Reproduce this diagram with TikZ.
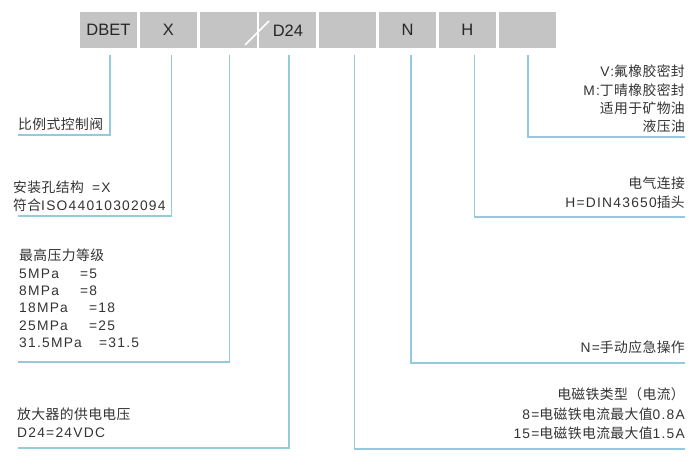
\documentclass[tikz,border=0pt]{standalone}
\usepackage{fontspec}
\setmainfont{Liberation Sans}[LetterSpace=9]
\newfontfamily\cjk{Noto Sans CJK SC}[LetterSpace=3]
\usetikzlibrary{positioning}

\definecolor{cellgray}{HTML}{C4C4C4}
\definecolor{leadblue}{HTML}{93CBDD}
\definecolor{inkgray}{HTML}{333333}

\begin{document}
\begin{tikzpicture}[
  x=1pt, y=-1pt,
  cell/.style={
    fill=cellgray,
    minimum width=57pt,
    minimum height=36pt,
    inner sep=0pt,
    text=black!85,
    font=\fontsize{16.5}{18}\selectfont\addfontfeatures{LetterSpace=0}
  },
  lead/.style={draw=leadblue, line width=1.5pt},
  slash/.style={draw=white, line width=1.6pt},
  leftnote/.style={
    anchor=south west,
    inner sep=0pt,
    align=left,
    text=inkgray,
    font=\fontsize{13.8}{18.5}\selectfont
  },
  rightnote/.style={
    anchor=south east,
    inner sep=0pt,
    align=right,
    text=inkgray,
    font=\fontsize{13.8}{19.5}\selectfont
  }
]
\useasboundingbox (0,0) rectangle (700,468);

% Code cells of the ordering key.
\node[cell] (c1) at (108.5,30.3) {DBET};
\node[cell, right=2.4pt of c1] (c2) {X};
\node[cell, right=2.4pt of c2] (c3) {};
\node[cell, right=2.4pt of c3] (c4) {D24};
\node[cell, right=2.4pt of c4] (c5) {};
\node[cell, right=2.4pt of c5] (c6) {N};
\node[cell, right=2.4pt of c6] (c7) {H};
\node[cell, right=2.4pt of c7] (c8) {};
\draw[slash] (245,45) -- (269,21);

% Left-hand explanations.
\node[leftnote] (n1) at (18,131) {{\cjk 比例式控制阀}};
\node[leftnote] (n2) at (13,212)
  {\makebox[79pt][l]{\cjk 安装孔结构}=X\\{\cjk 符合}ISO44010302094};
\node[leftnote, font=\fontsize{13.8}{17.4}\selectfont] (n3) at (19,348)
  {{\cjk 最高压力等级}\\
   \makebox[61pt][l]{5MPa}=5\\
   \makebox[61pt][l]{8MPa}=8\\
   \makebox[70pt][l]{18MPa}=18\\
   \makebox[70pt][l]{25MPa}=25\\
   \makebox[80pt][l]{31.5MPa}=31.5};
\node[leftnote] (n4) at (17,438) {{\cjk 放大器的供电电压}\\D24=24VDC};

% Right-hand explanations.
\node[rightnote, font=\fontsize{13.8}{18.3}\selectfont] (n8) at (685,133)
  {V:{\cjk 氟橡胶密封}\\M:{\cjk 丁晴橡胶密封}\\{\cjk 适用于矿物油}\\{\cjk 液压油}};
\node[rightnote] (n7) at (685,209) {{\cjk 电气连接}\\H=DIN43650{\cjk 插头}};
\node[rightnote] (n6) at (685,354) {N={\cjk 手动应急操作}};
\node[rightnote] (n5) at (685,440)
  {{\cjk 电磁铁类型（电流）}\\8={\cjk 电磁铁电流最大值}0.8A\\15={\cjk 电磁铁电流最大值}1.5A};

% Leader lines from the cells to the explanations.
\coordinate (e1) at (18,135);
\coordinate (e2) at (18,216);
\coordinate (e3) at (18,362);
\coordinate (e4) at (18,448);
\coordinate (e5) at (685,449);
\coordinate (e6) at (685,363);
\coordinate (e7) at (685,217);
\coordinate (e8) at (685,137);
\draw[lead] ([xshift=1.5pt,yshift=-7pt]c1.south) |- (e1);
\draw[lead] ([xshift=3pt,yshift=-7pt]c2.south) |- (e2);
\draw[lead] ([xshift=1.5pt,yshift=-7pt]c3.south) |- (e3);
\draw[lead] ([xshift=1pt,yshift=-7pt]c4.south) |- (e4);
\draw[lead] ([xshift=6.7pt,yshift=-7pt]c5.south) |- (e5);
\draw[lead] ([xshift=3.3pt,yshift=-7pt]c6.south) |- (e6);
\draw[lead] ([xshift=7pt,yshift=-7pt]c7.south) |- (e7);
\draw[lead] ([xshift=1pt,yshift=-7pt]c8.south) |- (e8);

\end{tikzpicture}
\end{document}
